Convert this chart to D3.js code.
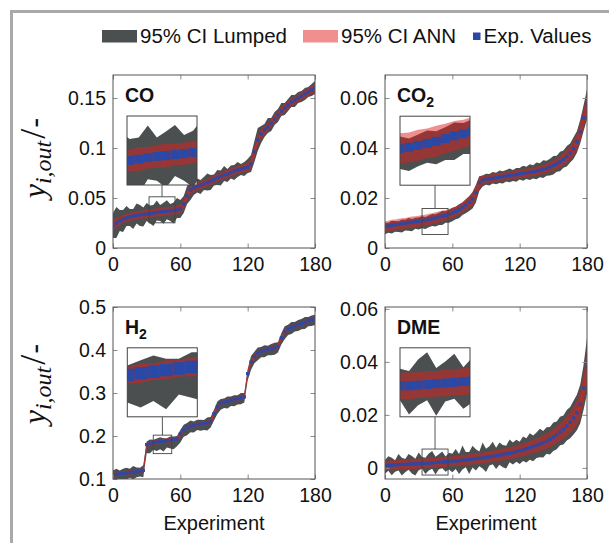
<!DOCTYPE html>
<html>
<head>
<meta charset="utf-8">
<script src="https://cdn.jsdelivr.net/npm/d3@7"></script>
<style>
  body { margin: 0; background: #fff; }
  svg { display: block; }
  text { font-family: "Liberation Sans", Arial, sans-serif; fill: #111; }
</style>
</head>
<body>
<div id="chart"></div>
<script>
// experiments shown every 3rd run (0..180)
const experiments = d3.range(0, 181, 3);

const coExp = [
  0.022, 0.025, 0.027, 0.029, 0.030, 0.031, 0.032, 0.0325, 0.033, 0.0335,
  0.034, 0.0345, 0.035, 0.0355, 0.036, 0.0363, 0.0367, 0.037, 0.0375, 0.038,
  0.039, 0.044, 0.052, 0.058, 0.060, 0.0615, 0.063, 0.064, 0.0655, 0.067,
  0.0685, 0.070, 0.0715, 0.073, 0.074, 0.0755, 0.077, 0.078, 0.079, 0.080,
  0.081, 0.084, 0.096, 0.108, 0.114, 0.118, 0.121, 0.125, 0.129, 0.133,
  0.137, 0.140, 0.143, 0.146, 0.148, 0.150, 0.152, 0.154, 0.156, 0.158,
  0.160];
const coLumpHi = [
  0.013, 0.016, 0.011, 0.009, 0.012, 0.008, 0.007, 0.012, 0.010, 0.007,
  0.011, 0.008, 0.008, 0.012, 0.007, 0.009, 0.011, 0.007, 0.008, 0.012,
  0.009, 0.008, 0.010, 0.009, 0.006, 0.008, 0.005, 0.007, 0.009, 0.006,
  0.005, 0.008, 0.006, 0.009, 0.005, 0.007, 0.006, 0.008, 0.005, 0.006,
  0.008, 0.009, 0.011, 0.012, 0.008, 0.006, 0.009, 0.005, 0.007, 0.006,
  0.008, 0.005, 0.006, 0.007, 0.005, 0.006, 0.005, 0.006, 0.005, 0.006,
  0.007];
const coLumpLo = [
  0.012, 0.015, 0.010, 0.013, 0.008, 0.009, 0.013, 0.008, 0.011, 0.012,
  0.007, 0.010, 0.013, 0.008, 0.009, 0.012, 0.008, 0.010, 0.013, 0.008,
  0.009, 0.009, 0.008, 0.010, 0.007, 0.006, 0.009, 0.006, 0.008, 0.009,
  0.006, 0.007, 0.009, 0.006, 0.008, 0.006, 0.009, 0.007, 0.006, 0.008,
  0.006, 0.008, 0.010, 0.011, 0.009, 0.007, 0.006, 0.008, 0.006, 0.007,
  0.005, 0.007, 0.006, 0.005, 0.007, 0.005, 0.006, 0.006, 0.005, 0.006,
  0.006];
const coAnn = [
  0.005, 0.005, 0.0045, 0.004, 0.004, 0.004, 0.0042, 0.004, 0.0038, 0.004,
  0.0042, 0.004, 0.0045, 0.004, 0.0042, 0.0045, 0.004, 0.0042, 0.004, 0.0042,
  0.0045, 0.005, 0.005, 0.0045, 0.004, 0.004, 0.0042, 0.004, 0.0038, 0.004,
  0.0042, 0.004, 0.0038, 0.004, 0.0042, 0.004, 0.0038, 0.004, 0.0042, 0.004,
  0.0045, 0.005, 0.006, 0.0055, 0.005, 0.0045, 0.0042, 0.004, 0.0042, 0.004,
  0.0042, 0.004, 0.0042, 0.004, 0.0038, 0.004, 0.0042, 0.004, 0.004, 0.0042,
  0.0045];

const co2Exp = [
  0.0085, 0.0088, 0.0091, 0.0093, 0.0095, 0.0097, 0.0099, 0.0101, 0.0103, 0.0105,
  0.0107, 0.0109, 0.0111, 0.0114, 0.0117, 0.0120, 0.0124, 0.0128, 0.0131, 0.0135,
  0.0140, 0.0146, 0.0153, 0.0162, 0.0172, 0.0183, 0.0196, 0.0222, 0.0262, 0.0272,
  0.0275, 0.0277, 0.0279, 0.0281, 0.0283, 0.0286, 0.0288, 0.0290, 0.0292, 0.0294,
  0.0297, 0.0299, 0.0301, 0.0303, 0.0305, 0.0308, 0.0311, 0.0315, 0.0319, 0.0324,
  0.0330, 0.0337, 0.0345, 0.0355, 0.0366, 0.0380, 0.0398, 0.0425, 0.0465, 0.0520,
  0.0575];
const co2LumpHi = [
  0.0016, 0.0013, 0.0018, 0.0015, 0.0012, 0.0017, 0.0014, 0.0019, 0.0013, 0.0016,
  0.0015, 0.0018, 0.0013, 0.0016, 0.0019, 0.0015, 0.0017, 0.0020, 0.0016, 0.0018,
  0.0021, 0.0019, 0.0022, 0.0020, 0.0023, 0.0024, 0.0028, 0.0030, 0.0025, 0.0018,
  0.0022, 0.0019, 0.0025, 0.0020, 0.0027, 0.0021, 0.0024, 0.0028, 0.0020, 0.0026,
  0.0023, 0.0030, 0.0024, 0.0032, 0.0026, 0.0034, 0.0028, 0.0036, 0.0030, 0.0033,
  0.0038, 0.0032, 0.0040, 0.0035, 0.0042, 0.0038, 0.0045, 0.0042, 0.0048, 0.0052,
  0.0060];
const co2LumpLo = [
  0.0030, 0.0027, 0.0033, 0.0028, 0.0031, 0.0035, 0.0029, 0.0032, 0.0036, 0.0028,
  0.0033, 0.0030, 0.0035, 0.0031, 0.0029, 0.0034, 0.0032, 0.0036, 0.0030, 0.0034,
  0.0033, 0.0031, 0.0034, 0.0030, 0.0033, 0.0035, 0.0038, 0.0040, 0.0034, 0.0026,
  0.0022, 0.0027, 0.0021, 0.0026, 0.0023, 0.0028, 0.0022, 0.0027, 0.0024, 0.0029,
  0.0023, 0.0030, 0.0025, 0.0031, 0.0027, 0.0033, 0.0028, 0.0035, 0.0030, 0.0034,
  0.0036, 0.0032, 0.0038, 0.0034, 0.0040, 0.0038, 0.0042, 0.0044, 0.0046, 0.0052,
  0.0060];
const co2Ann = [
  0.0022, 0.0021, 0.0022, 0.0021, 0.0022, 0.0022, 0.0021, 0.0022, 0.0023, 0.0022,
  0.0022, 0.0023, 0.0022, 0.0023, 0.0022, 0.0023, 0.0022, 0.0022, 0.0021, 0.0021,
  0.0020, 0.0020, 0.0020, 0.0021, 0.0022, 0.0024, 0.0026, 0.0028, 0.0024, 0.0018,
  0.0016, 0.0016, 0.0017, 0.0016, 0.0017, 0.0016, 0.0016, 0.0017, 0.0016, 0.0017,
  0.0017, 0.0016, 0.0017, 0.0018, 0.0017, 0.0018, 0.0019, 0.0018, 0.0019, 0.0020,
  0.0021, 0.0022, 0.0023, 0.0024, 0.0026, 0.0028, 0.0030, 0.0033, 0.0036, 0.0040,
  0.0045];

const h2Exp = [
  0.110, 0.111, 0.112, 0.113, 0.114, 0.115, 0.116, 0.117, 0.118, 0.120,
  0.180, 0.183, 0.185, 0.186, 0.187, 0.188, 0.189, 0.190, 0.191, 0.193,
  0.205, 0.214, 0.220, 0.223, 0.225, 0.227, 0.228, 0.229, 0.231, 0.233,
  0.252, 0.268, 0.276, 0.279, 0.281, 0.283, 0.285, 0.287, 0.289, 0.291,
  0.345, 0.372, 0.385, 0.393, 0.397, 0.399, 0.401, 0.403, 0.405, 0.408,
  0.428, 0.442, 0.449, 0.453, 0.456, 0.459, 0.462, 0.465, 0.468, 0.470,
  0.472];
const h2LumpHi = [
  0.010, 0.013, 0.008, 0.011, 0.012, 0.009, 0.014, 0.010, 0.008, 0.012,
  0.007, 0.009, 0.006, 0.008, 0.010, 0.007, 0.006, 0.009, 0.008, 0.007,
  0.009, 0.012, 0.010, 0.013, 0.009, 0.011, 0.010, 0.008, 0.012, 0.011,
  0.009, 0.012, 0.010, 0.008, 0.011, 0.009, 0.010, 0.008, 0.011, 0.009,
  0.010, 0.014, 0.011, 0.013, 0.010, 0.012, 0.009, 0.011, 0.012, 0.010,
  0.011, 0.013, 0.010, 0.012, 0.009, 0.011, 0.010, 0.012, 0.009, 0.010,
  0.010];
const h2LumpLo = [
  0.014, 0.017, 0.012, 0.015, 0.016, 0.012, 0.017, 0.013, 0.012, 0.016,
  0.020, 0.023, 0.017, 0.021, 0.018, 0.024, 0.016, 0.019, 0.022, 0.017,
  0.020, 0.016, 0.018, 0.014, 0.017, 0.013, 0.016, 0.015, 0.018, 0.013,
  0.016, 0.017, 0.015, 0.014, 0.017, 0.013, 0.016, 0.014, 0.015, 0.013,
  0.016, 0.018, 0.016, 0.017, 0.014, 0.016, 0.013, 0.015, 0.016, 0.014,
  0.015, 0.017, 0.014, 0.016, 0.013, 0.015, 0.014, 0.016, 0.013, 0.014,
  0.014];
const h2Ann = [
  0.005, 0.005, 0.005, 0.005, 0.005, 0.005, 0.005, 0.005, 0.005, 0.006,
  0.006, 0.006, 0.005, 0.006, 0.005, 0.006, 0.005, 0.006, 0.005, 0.006,
  0.006, 0.006, 0.005, 0.005, 0.005, 0.005, 0.005, 0.005, 0.005, 0.006,
  0.007, 0.006, 0.005, 0.005, 0.005, 0.005, 0.005, 0.005, 0.005, 0.006,
  0.008, 0.007, 0.006, 0.005, 0.005, 0.005, 0.005, 0.005, 0.005, 0.006,
  0.007, 0.006, 0.005, 0.005, 0.005, 0.005, 0.005, 0.005, 0.005, 0.005,
  0.005];

const dmeExp = [
  0.0008, 0.0009, 0.0010, 0.0011, 0.0012, 0.0013, 0.0013, 0.0014, 0.0015, 0.0015,
  0.0016, 0.0017, 0.0017, 0.0018, 0.0019, 0.0020, 0.0021, 0.0022, 0.0023, 0.0024,
  0.0025, 0.0026, 0.0027, 0.0029, 0.0030, 0.0032, 0.0033, 0.0035, 0.0036, 0.0038,
  0.0040, 0.0042, 0.0044, 0.0046, 0.0048, 0.0050, 0.0053, 0.0055, 0.0058, 0.0061,
  0.0065, 0.0068, 0.0072, 0.0076, 0.0080, 0.0085, 0.0090, 0.0095, 0.0101, 0.0108,
  0.0116, 0.0125, 0.0135, 0.0146, 0.0158, 0.0172, 0.0188, 0.0208, 0.0240, 0.0300,
  0.0380];
const dmeLumpHi = [
  0.0022, 0.0035, 0.0028, 0.0018, 0.0040, 0.0025, 0.0020, 0.0038, 0.0030, 0.0019,
  0.0042, 0.0024, 0.0021, 0.0036, 0.0045, 0.0022, 0.0030, 0.0040, 0.0020, 0.0033,
  0.0028, 0.0045, 0.0025, 0.0055, 0.0030, 0.0028, 0.0050, 0.0035, 0.0026, 0.0058,
  0.0032, 0.0040, 0.0055, 0.0030, 0.0048, 0.0036, 0.0030, 0.0052, 0.0038, 0.0045,
  0.0034, 0.0050, 0.0040, 0.0055, 0.0042, 0.0048, 0.0058, 0.0044, 0.0052, 0.0046,
  0.0055, 0.0050, 0.0058, 0.0052, 0.0060, 0.0058, 0.0065, 0.0068, 0.0075, 0.0090,
  0.0110];
const dmeLumpLo = [
  0.0030, 0.0020, 0.0038, 0.0026, 0.0022, 0.0042, 0.0030, 0.0021, 0.0036, 0.0044,
  0.0025, 0.0020, 0.0040, 0.0028, 0.0022, 0.0045, 0.0026, 0.0023, 0.0038, 0.0030,
  0.0042, 0.0030, 0.0050, 0.0035, 0.0028, 0.0055, 0.0032, 0.0045, 0.0030, 0.0040,
  0.0056, 0.0033, 0.0030, 0.0050, 0.0036, 0.0048, 0.0055, 0.0034, 0.0045, 0.0038,
  0.0050, 0.0042, 0.0052, 0.0045, 0.0055, 0.0048, 0.0050, 0.0056, 0.0048, 0.0058,
  0.0052, 0.0055, 0.0050, 0.0058, 0.0055, 0.0060, 0.0062, 0.0066, 0.0072, 0.0080,
  0.0100];
const dmeAnn = [
  0.0018, 0.0018, 0.0019, 0.0018, 0.0019, 0.0018, 0.0019, 0.0018, 0.0019, 0.0018,
  0.0019, 0.0018, 0.0019, 0.0018, 0.0019, 0.0018, 0.0019, 0.0018, 0.0019, 0.0018,
  0.0019, 0.0019, 0.0020, 0.0019, 0.0020, 0.0019, 0.0020, 0.0020, 0.0021, 0.0020,
  0.0021, 0.0021, 0.0022, 0.0021, 0.0022, 0.0022, 0.0023, 0.0022, 0.0023, 0.0023,
  0.0024, 0.0024, 0.0025, 0.0025, 0.0026, 0.0026, 0.0027, 0.0028, 0.0029, 0.0030,
  0.0031, 0.0032, 0.0034, 0.0036, 0.0038, 0.0040, 0.0043, 0.0046, 0.0050, 0.0055,
  0.0065];

const xTicks = [0, 60, 120, 180];
const legendLabels = ["95% CI Lumped", "95% CI ANN", "Exp. Values"];

// layout
const W = 609, H = 543;
const pw = 202;
const colors = { lump: "#4b4f4f", ann: "rgb(226,32,32)", exp: "#2a48a6" };

const panels = [
  { id: "co", title: "CO", sub: "", exp: coExp, hi: coLumpHi, lo: coLumpLo, ann: coAnn,
    yDomain: [0, 0.173], yTicks: [0, 0.05, 0.1, 0.15], left: 113, top: 75, h: 173,
    spy: { x: 43.7, y: 0.0382, box: 26, cx: 49, cy: 75.5 }, xlabel: false },
  { id: "co2", title: "CO", sub: "2", exp: co2Exp, hi: co2LumpHi, lo: co2LumpLo, ann: co2Ann,
    yDomain: [0, 0.0692], yTicks: [0, 0.02, 0.04, 0.06], left: 385, top: 75, h: 173,
    spy: { x: 44.6, y: 0.0106, box: 26, cx: 50, cy: 75.7 }, xlabel: false },
  { id: "h2", title: "H", sub: "2", exp: h2Exp, hi: h2LumpHi, lo: h2LumpLo, ann: h2Ann,
    yDomain: [0.1, 0.5], yTicks: [0.1, 0.2, 0.3, 0.4, 0.5], left: 113, top: 307, h: 172,
    spy: { x: 44.1, y: 0.1805, box: 18.5, cx: 49.3, cy: 75.3 }, xlabel: true },
  { id: "dme", title: "DME", sub: "", exp: dmeExp, hi: dmeLumpHi, lo: dmeLumpLo, ann: dmeAnn,
    yDomain: [-0.0042, 0.0607], yTicks: [0, 0.02, 0.04, 0.06], left: 385, top: 307, h: 172,
    spy: { x: 44.6, y: 0.0022, box: 26, cx: 50, cy: 75.3 }, xlabel: true }
];

const svg = d3.select("#chart").append("svg")
  .attr("width", W).attr("height", H);
svg.append("rect").attr("width", W).attr("height", H).attr("fill", "#fff");
const defs = svg.append("defs");

// outer grey frame
svg.append("path")
  .attr("d", `M11.5,${H} V11.5 H${W}`)
  .attr("fill", "none").attr("stroke", "#a9a9a9").attr("stroke-width", 3);

// legend
const leg = svg.append("g").attr("class", "legend");
leg.append("rect").attr("x", 102).attr("y", 30).attr("width", 35).attr("height", 12.5)
  .attr("fill", colors.lump);
leg.append("text").attr("x", 140).attr("y", 42.5).attr("font-size", 20.5).text(legendLabels[0]);
leg.append("rect").attr("x", 303).attr("y", 30).attr("width", 35).attr("height", 12.5)
  .attr("fill", colors.ann).attr("fill-opacity", 0.5);
leg.append("text").attr("x", 341).attr("y", 42.5).attr("font-size", 20.5).text(legendLabels[1]);
leg.append("rect").attr("x", 473).attr("y", 32.5).attr("width", 7.5).attr("height", 7.5)
  .attr("fill", colors.exp);
leg.append("text").attr("x", 483.5).attr("y", 42.5).attr("font-size", 20.5).text(legendLabels[2]);

panels.forEach(p => {
  const x = d3.scaleLinear().domain([0, 180]).range([0, pw]);
  const y = d3.scaleLinear().domain(p.yDomain).range([p.h, 0]);
  const rows = experiments.map((e, i) => ({
    e, v: p.exp[i], hi: p.hi[i], lo: p.lo[i], a: p.ann[i]
  }));

  const g = svg.append("g").attr("transform", `translate(${p.left},${p.top})`);

  defs.append("clipPath").attr("id", "clip-" + p.id)
    .append("rect").attr("width", pw).attr("height", p.h);

  const content = g.append("g").attr("id", "content-" + p.id)
    .attr("clip-path", `url(#clip-${p.id})`);

  const lumpArea = d3.area().x(d => x(d.e)).y0(d => y(d.v - d.lo)).y1(d => y(d.v + d.hi));
  const annArea = d3.area().x(d => x(d.e)).y0(d => y(d.v - d.a)).y1(d => y(d.v + d.a));
  const line = d3.line().x(d => x(d.e)).y(d => y(d.v));

  content.append("path").attr("d", lumpArea(rows)).attr("fill", colors.lump);
  content.append("path").attr("d", annArea(rows)).attr("fill", colors.ann).attr("fill-opacity", 0.5);
  content.append("path").attr("d", line(rows)).attr("fill", "none")
    .attr("stroke", "#d42a2a").attr("stroke-width", 0.6);
  const ms = 3.3;
  content.selectAll("rect.m").data(rows).join("rect").attr("class", "m")
    .attr("x", d => x(d.e) - ms / 2).attr("y", d => y(d.v) - ms / 2)
    .attr("width", ms).attr("height", ms).attr("fill", colors.exp);

  // title
  const t = g.append("text").attr("x", 12).attr("y", 27)
    .attr("font-size", 19.5).attr("font-weight", "bold").text(p.title);
  if (p.sub) t.append("tspan").attr("font-size", 14).attr("dy", 5).text(p.sub);

  // spy inset (magnified copy of the plotted content)
  const s = p.spy;
  const bx = x(s.x), by = y(s.y);
  const iw = 70, ih = 69;
  const mag = iw / s.box;
  defs.append("clipPath").attr("id", "iclip-" + p.id)
    .append("rect").attr("x", s.cx - iw / 2).attr("y", s.cy - ih / 2)
    .attr("width", iw).attr("height", ih);
  const inset = g.append("g").attr("clip-path", `url(#iclip-${p.id})`);
  inset.append("rect").attr("x", s.cx - iw / 2).attr("y", s.cy - ih / 2)
    .attr("width", iw).attr("height", ih).attr("fill", "#fff");
  inset.append("use").attr("href", "#content-" + p.id)
    .attr("transform", `translate(${s.cx},${s.cy}) scale(${mag}) translate(${-bx},${-by})`);
  g.append("rect").attr("x", s.cx - iw / 2).attr("y", s.cy - ih / 2)
    .attr("width", iw).attr("height", ih)
    .attr("fill", "none").attr("stroke", "#444").attr("stroke-width", 1);
  g.append("rect").attr("x", bx - s.box / 2).attr("y", by - s.box / 2)
    .attr("width", s.box).attr("height", s.box)
    .attr("fill", "none").attr("stroke", "#444").attr("stroke-width", 0.9);
  g.append("line").attr("x1", s.cx).attr("y1", s.cy + ih / 2)
    .attr("x2", bx).attr("y2", by - s.box / 2)
    .attr("stroke", "#444").attr("stroke-width", 0.9);

  // axes
  const styleAxis = (sel) => {
    sel.select(".domain").remove();
    sel.selectAll(".tick line").attr("stroke", "#8a8a8a");
    sel.selectAll(".tick text").attr("font-size", 19.5).attr("fill", "#111")
      .attr("font-family", '"Liberation Sans", Arial, sans-serif');
  };
  g.append("g").call(d3.axisLeft(y).tickValues(p.yTicks).tickFormat(d => String(d))
    .tickSizeInner(-4.5).tickSizeOuter(0).tickPadding(7)).call(styleAxis);
  g.append("g").attr("transform", `translate(${pw},0)`)
    .call(d3.axisRight(y).tickValues(p.yTicks).tickFormat("")
      .tickSizeInner(-4.5).tickSizeOuter(0)).call(styleAxis);
  g.append("g").attr("transform", `translate(0,${p.h})`)
    .call(d3.axisBottom(x).tickValues(xTicks).tickFormat(d => String(d))
      .tickSizeInner(-4.5).tickSizeOuter(0).tickPadding(9)).call(styleAxis);
  g.append("g").call(d3.axisTop(x).tickValues(xTicks).tickFormat("")
    .tickSizeInner(-4.5).tickSizeOuter(0)).call(styleAxis);

  g.append("rect").attr("width", pw).attr("height", p.h)
    .attr("fill", "none").attr("stroke", "#555").attr("stroke-width", 1);

  if (p.xlabel) {
    g.append("text").attr("x", pw / 2).attr("y", p.h + 51)
      .attr("text-anchor", "middle").attr("font-size", 20).text("Experiment");
  }
});

// y axis labels  y_{i,out} / -
[158, 384].forEach(cy => {
  const t = svg.append("text")
    .attr("transform", `translate(45,${cy}) rotate(-90)`)
    .attr("text-anchor", "middle");
  t.append("tspan").attr("font-family", '"Liberation Serif", serif')
    .attr("font-style", "italic").attr("font-size", 32).text("y");
  t.append("tspan").attr("font-family", '"Liberation Serif", serif')
    .attr("font-style", "italic").attr("font-size", 24).attr("dy", 6).text("i,out");
  t.append("tspan").attr("font-family", '"Liberation Serif", serif')
    .attr("font-size", 36).attr("dy", -6).attr("dx", 2).text("/");
  t.append("tspan").attr("font-size", 30).attr("dx", 1).text("-");
});
</script>
</body>
</html>
